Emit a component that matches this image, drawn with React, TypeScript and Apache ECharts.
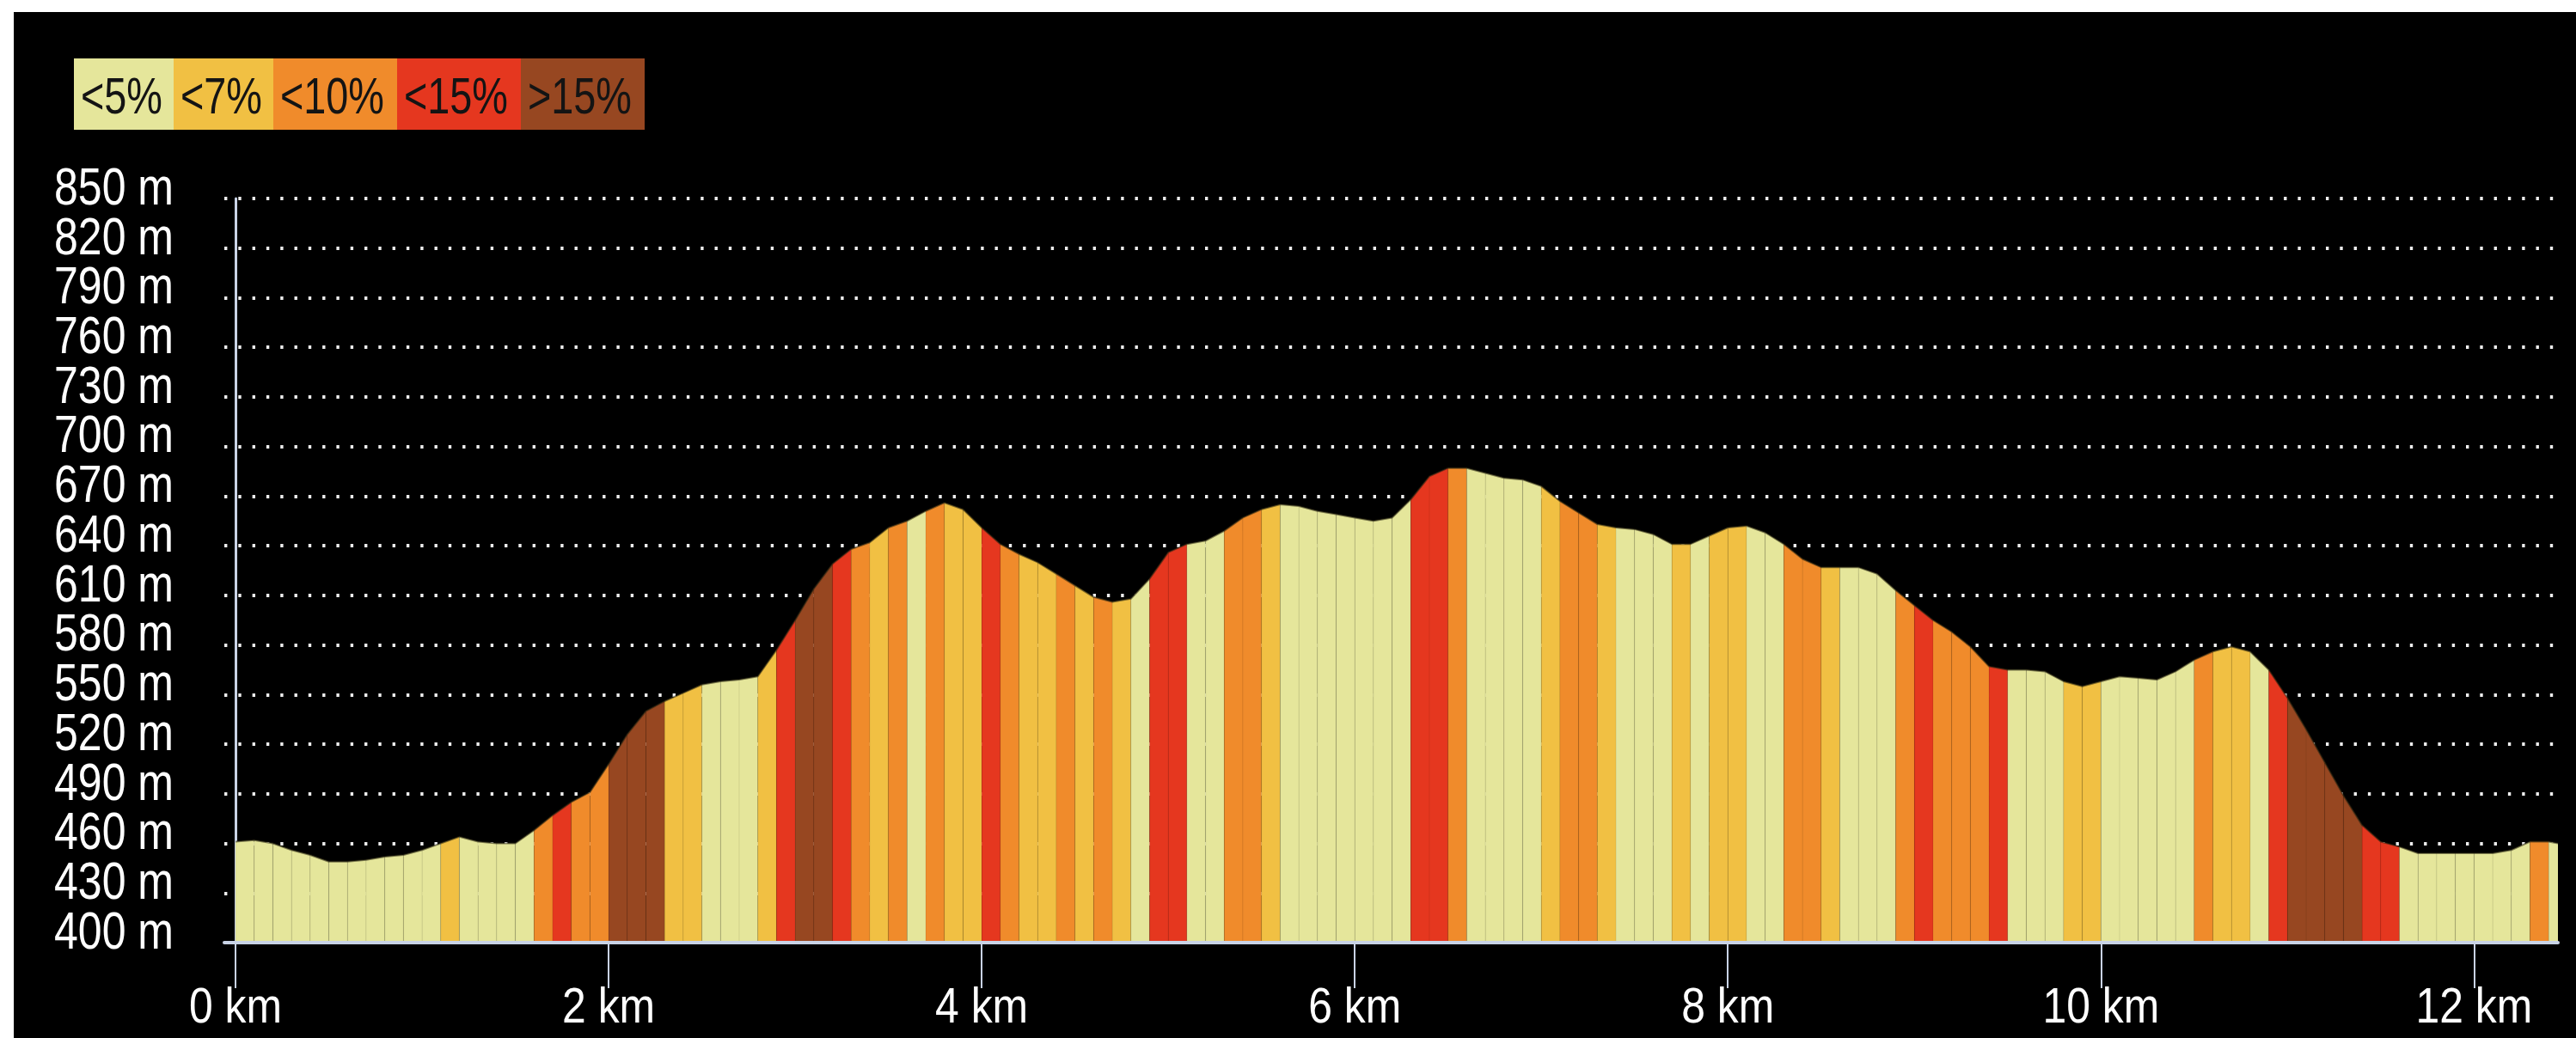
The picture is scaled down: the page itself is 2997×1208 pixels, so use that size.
import React, { useEffect, useRef } from 'react';
import * as echarts from 'echarts';

// ---------- data ----------
const GRADE_LABELS = ['<5%', '<7%', '<10%', '<15%', '>15%'];
const GRADE_COLORS = ['#e5e69b', '#f1c043', '#f08b2b', '#e5371f', '#974721'];

const X_TICKS_KM = [0, 2, 4, 6, 8, 10, 12];
const Y_TICKS_M = [400, 430, 460, 490, 520, 550, 580, 610, 640, 670, 700, 730, 760, 790, 820, 850];
const Y_MIN = 400;
const Y_MAX = 850;
const Y_STEP = 30;

const STEP_KM = 0.1;
const TOTAL_KM = 12.45;

// elevation (m) every 0.1 km, last point at 12.45 km
const ELEVATION_M = [
  461, 462, 460, 456, 453, 449, 449, 450, 452, 453,
  456, 460, 464, 461, 460, 460, 468, 477, 485, 491,
  508, 526, 540, 546, 551, 556, 558, 559, 561, 577,
  595, 614, 629, 638, 642, 651, 655, 661, 666, 662,
  651, 641, 635, 630, 623, 616, 609, 606, 608, 620,
  636, 641, 643, 649, 657, 662, 665, 664, 661, 659,
  657, 655, 657, 668, 682, 687, 687, 684, 681, 680,
  676, 667, 660, 653, 651, 650, 647, 641, 641, 646,
  651, 652, 648, 641, 632, 627, 627, 627, 623, 613,
  604, 595, 588, 579, 567, 565, 565, 564, 558, 555,
  558, 561, 560, 559, 564, 571, 576, 579, 576, 565,
  548, 529, 509, 489, 471, 461, 458, 454, 454, 454,
  454, 454, 456, 461, 461, 460,
];

// gradient class of each segment (index into GRADE_LABELS)
const SEGMENT_GRADE = [
  0, 0, 0, 0, 0, 0, 0, 0, 0, 0,
  0, 1, 0, 0, 0, 0, 2, 3, 2, 2,
  4, 4, 4, 1, 1, 0, 0, 0, 1, 3,
  4, 4, 3, 2, 1, 2, 0, 2, 1, 1,
  3, 2, 1, 1, 2, 1, 2, 1, 0, 3,
  3, 0, 0, 2, 2, 1, 0, 0, 0, 0,
  0, 0, 0, 3, 3, 2, 0, 0, 0, 0,
  1, 2, 2, 1, 0, 0, 0, 1, 0, 1,
  1, 0, 0, 2, 2, 1, 0, 0, 0, 2,
  3, 2, 2, 2, 3, 0, 0, 0, 1, 1,
  0, 0, 0, 0, 0, 2, 1, 1, 0, 3,
  4, 4, 4, 4, 3, 3, 0, 0, 0, 0,
  0, 0, 0, 2, 0,
];

const DISTANCE_KM = ELEVATION_M.map((_, i) => Math.min(+(i * STEP_KM).toFixed(2), TOTAL_KM));

// ---------- style ----------
const FONT = "'Liberation Sans', Arial, sans-serif";
const NARROW = 0.82; // horizontal squeeze to mimic a narrow face
const AXIS_COLOR = '#c9d3e6';
const X_MIN = -0.06;

export default function App() {
  const ref = useRef<HTMLDivElement>(null);

  useEffect(() => {
    if (!ref.current) return;
    document.body.style.overflow = 'hidden';
    const chart = echarts.init(ref.current, undefined, { renderer: 'svg' });

    const segments = SEGMENT_GRADE.map((g, i) => [
      DISTANCE_KM[i],
      DISTANCE_KM[i + 1],
      ELEVATION_M[i],
      ELEVATION_M[i + 1],
      g,
    ]);

    const option: any = {
      animation: false,
      backgroundColor: '#000',
      grid: {
        left: 245,
        right: 21,
        top: 217,
        bottom: 111,
        containLabel: false,
        outerBoundsMode: 'none',
      },
      xAxis: {
        type: 'value',
        min: X_MIN,
        max: TOTAL_KM,
        z: 5,
        axisLine: { show: true, onZero: false, lineStyle: { color: AXIS_COLOR, width: 4 } },
        axisTick: {
          show: true,
          customValues: X_TICKS_KM,
          length: 53,
          lineStyle: { color: AXIS_COLOR, width: 2 },
        },
        axisLabel: { show: false },
        splitLine: { show: false },
      },
      yAxis: {
        type: 'value',
        min: Y_MIN,
        max: Y_MAX,
        interval: Y_STEP,
        axisLine: { show: true, lineStyle: { color: AXIS_COLOR, width: 3 } },
        axisTick: { show: false },
        axisLabel: { show: false },
        splitLine: {
          show: true,
          lineStyle: { color: '#eeeeee', width: 4, type: [3.4, 12.9] },
        },
      },
      series: [
        {
          type: 'custom',
          data: segments,
          encode: { x: [0, 1], y: [2, 3] },
          z: 2,
          renderItem: (params: any, api: any) => {
            const x0 = api.value(0);
            const x1 = api.value(1);
            const y0 = api.value(2);
            const y1 = api.value(3);
            const g = api.value(4);
            const p0 = api.coord([x0, y0]);
            const p1 = api.coord([x1, y1]);
            const b1 = api.coord([x1, Y_MIN]);
            const b0 = api.coord([x0, Y_MIN]);
            return {
              type: 'group',
              children: [
                {
                  type: 'polygon',
                  shape: { points: [p0, p1, b1, b0] },
                  style: { fill: GRADE_COLORS[g] },
                },
                {
                  type: 'line',
                  shape: { x1: p0[0], y1: p0[1], x2: b0[0], y2: b0[1] },
                  style: { stroke: 'rgba(0,0,0,0.05)', lineWidth: 1.5 },
                },
              ],
            };
          },
        },
        {
          type: 'line',
          data: DISTANCE_KM.map((d, i) => [d, ELEVATION_M[i]]),
          symbol: 'none',
          z: 3,
          lineStyle: { color: 'rgba(40,36,16,0.55)', width: 2 },
        },
      ],
    };

    chart.setOption(option);

    // ----- labels placed through the axes' own scales -----
    const graphics: any[] = [];

    // legend boxes
    const legendChildren: any[] = [];
    let lx = 0;
    GRADE_LABELS.forEach((label, i) => {
      const w = 28 * label.length + 32;
      legendChildren.push({
        type: 'rect',
        shape: { x: lx, y: 0, width: w, height: 83 },
        style: { fill: GRADE_COLORS[i] },
      });
      legendChildren.push({
        type: 'text',
        x: lx + 8,
        y: 43,
        scaleX: 0.78,
        style: {
          text: label,
          fill: '#141414',
          fontSize: 60,
          lineHeight: 60,
          fontFamily: FONT,
          align: 'left',
          verticalAlign: 'middle',
        },
      });
      lx += w;
    });
    graphics.push({ type: 'group', left: 70, top: 54, children: legendChildren });

    // y-axis labels
    Y_TICKS_M.forEach((v) => {
      const [ax, py] = chart.convertToPixel({ gridIndex: 0 }, [X_MIN, v]) as number[];
      graphics.push({
        type: 'text',
        x: ax - 59,
        y: py - 14,
        scaleX: NARROW,
        style: {
          text: `${v} m`,
          fill: '#ffffff',
          fontSize: 61,
          lineHeight: 50,
          fontFamily: FONT,
          align: 'right',
          verticalAlign: 'middle',
        },
      });
    });

    // x-axis labels
    X_TICKS_KM.forEach((v) => {
      const [px, py] = chart.convertToPixel({ gridIndex: 0 }, [v, Y_MIN]) as number[];
      graphics.push({
        type: 'text',
        x: px,
        y: py + 73,
        scaleX: 0.86,
        style: {
          text: `${v} km`,
          fill: '#ffffff',
          fontSize: 58,
          lineHeight: 48,
          fontFamily: FONT,
          align: 'center',
          verticalAlign: 'middle',
        },
      });
    });

    chart.setOption({ graphic: graphics });

    return () => chart.dispose();
  }, []);

  return (
    <div
      ref={ref}
      style={{
        position: 'absolute',
        left: 16,
        top: 14,
        width: 2981,
        height: 1194,
        background: '#000',
      }}
    />
  );
}
